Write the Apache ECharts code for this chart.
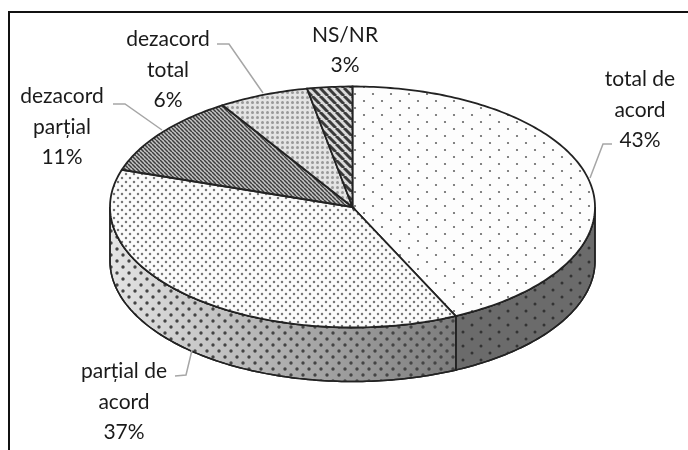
<!DOCTYPE html>
<html lang="ro">
<head>
<meta charset="UTF-8" />
<title>Grafic circular</title>
<script src="https://cdn.jsdelivr.net/npm/echarts/dist/echarts.min.js"></script>
<style>
  html, body { margin: 0; padding: 0; background: #fff; }
  #chart { width: 688px; height: 450px; }
</style>
</head>
<body>
<div id="chart"></div>
<script>
// data
const categories = ['total de\nacord', 'parțial de\nacord', 'dezacord\nparțial', 'dezacord\ntotal', 'NS/NR'];
const values = [43, 37, 11, 6, 3];

// geometry of the tilted disc
const disc = { cx: 352.5, cy: 207, rx: 242.5, ry: 120.5, depth: 54 };

// label placement: centre of the text block + leader line as [rim, elbow, end]
const labelPos = [
  { x: 640, y: 110, leader: [[590, 178], [603, 144], [612, 144]] },
  { x: 124, y: 402, leader: [[192, 350], [186, 375], [175, 376]] },
  { x: 62, y: 127, leader: [[162, 130], [125, 104], [113, 104]] },
  { x: 168, y: 70, leader: [[263, 93], [229, 44], [217, 44]] },
  { x: 345, y: 50, leader: null }
];

function tile(w, h, bg, draw) {
  const c = document.createElement('canvas');
  c.width = w; c.height = h;
  const g = c.getContext('2d');
  g.fillStyle = bg;
  g.fillRect(0, 0, w, h);
  draw(g);
  return { image: c, repeat: 'repeat' };
}
function dots(color, r, pts) {
  return g => {
    g.fillStyle = color;
    pts.forEach(p => { g.beginPath(); g.arc(p[0], p[1], r, 0, Math.PI * 2); g.fill(); });
  };
}
function stripes(size, color, width) {
  return g => {
    g.strokeStyle = color;
    g.lineWidth = width;
    for (let i = -size; i <= size; i += size) {
      g.beginPath();
      g.moveTo(i, 0);
      g.lineTo(i + size, size);
      g.stroke();
    }
  };
}

const topFill = [
  tile(18, 14, '#fdfdfd', dots('#666', 1.1, [[4, 3], [13, 10]])),
  tile(8, 8, '#fbfbfb', dots('#777', 1.25, [[2, 2], [6, 6]])),
  tile(4, 4, '#c4c4c4', stripes(4, '#3c3c3c', 1.5)),
  tile(5, 5, '#e4e4e4', dots('#999', 1.5, [[2.5, 2.5]])),
  tile(8, 8, '#dadada', stripes(8, '#3a3a3a', 3))
];
const wallDots = [
  tile(18, 14, 'rgba(0,0,0,0)', dots('#333', 1.5, [[4, 3], [13, 10]])),
  tile(12, 12, 'rgba(0,0,0,0)', dots('#444', 1.7, [[3, 3], [9, 9]]))
];
const wallFill = [
  '#6b6b6b',
  new echarts.graphic.LinearGradient(disc.cx - disc.rx, 0, disc.cx + 110, 0, [
    { offset: 0, color: '#e4e4e4' },
    { offset: 0.5, color: '#aeaeae' },
    { offset: 1, color: '#7a7a7a' }
  ], true)
];

function rim(deg, dy) {
  const a = deg * Math.PI / 180;
  return [disc.cx + disc.rx * Math.sin(a), disc.cy - disc.ry * Math.cos(a) + (dy || 0)];
}
function arc(from, to, dy) {
  const pts = [];
  const n = Math.max(2, Math.ceil(to - from));
  for (let i = 0; i <= n; i++) pts.push(rim(from + (to - from) * i / n, dy));
  return pts;
}

const total = values.reduce((a, b) => a + b, 0);
const starts = [];
values.reduce((sum, v, i) => { starts[i] = sum / total * 360; return sum + v; }, 0);

function renderSlice(params, api) {
  const i = params.dataIndex;
  const from = starts[i];
  const to = from + api.value(0) / total * 360;
  const children = [];

  // side wall, only on the front half of the disc
  const wallFrom = Math.max(from, 90);
  const wallTo = Math.min(to, 270);
  if (wallFrom < wallTo) {
    const pts = arc(wallFrom, wallTo, 0).concat(arc(wallFrom, wallTo, disc.depth).reverse());
    children.push({ type: 'polygon', shape: { points: pts }, style: { fill: wallFill[i], stroke: '#222', lineWidth: 1.5 } });
    children.push({ type: 'polygon', shape: { points: pts }, style: { fill: wallDots[i], stroke: '#222', lineWidth: 1.5 } });
  }

  // top face
  children.push({
    type: 'polygon',
    shape: { points: [[disc.cx, disc.cy]].concat(arc(from, to, 0)) },
    style: { fill: topFill[i], stroke: '#222', lineWidth: 1.8 }
  });

  const pos = labelPos[i];
  if (pos.leader) {
    children.push({
      type: 'polyline',
      shape: { points: pos.leader },
      style: { fill: null, stroke: '#a6a6a6', lineWidth: 1.5 }
    });
  }
  children.push({
    type: 'text',
    x: pos.x,
    y: pos.y,
    style: {
      text: categories[i] + '\n' + api.value(0) + '%',
      fill: '#1a1a1a',
      font: '21px Lato',
      lineHeight: 30.5,
      align: 'center',
      verticalAlign: 'middle'
    }
  });
  return { type: 'group', children };
}

const chart = echarts.init(document.getElementById('chart'), null, { renderer: 'canvas' });
chart.setOption({
  animation: false,
  backgroundColor: '#fff',
  graphic: [{
    type: 'polyline',
    shape: { points: [[9, 450], [9, 12], [688, 12]] },
    style: { fill: null, stroke: '#111', lineWidth: 2 }
  }],
  series: [{
    type: 'custom',
    coordinateSystem: 'none',
    silent: true,
    data: values,
    renderItem: renderSlice
  }]
});
</script>
</body>
</html>
